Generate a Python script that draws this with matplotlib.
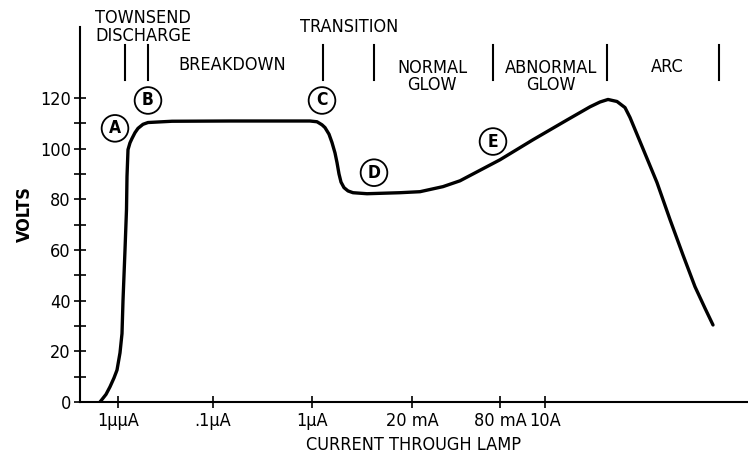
import matplotlib
matplotlib.use('Agg')
import matplotlib.pyplot as plt

# x is a position along the (non-uniform) current axis, ticks placed where the labels sit
tick_pos = [0.38, 1.33, 2.32, 3.32, 4.20, 4.65]
tick_labels = ['1\u00b5\u00b5A', '.1\u00b5A', '1\u00b5A', '20 mA', '80 mA', '10A']

# volt-ampere curve
curve_x = [0.20, 0.26, 0.30, 0.34, 0.37, 0.40, 0.42, 0.43, 0.45, 0.465, 0.47,
           0.48, 0.50, 0.52, 0.55, 0.58, 0.63, 0.68, 0.92, 1.50,
           2.20, 2.30, 2.37, 2.42, 2.45, 2.49, 2.52, 2.55, 2.57, 2.59, 2.61,
           2.64, 2.68, 2.73, 2.87, 3.20, 3.40, 3.63, 3.80, 3.93, 4.20, 4.53,
           4.87, 5.10, 5.20, 5.28, 5.37, 5.45, 5.50, 5.60, 5.77, 5.90, 6.03,
           6.15, 6.25, 6.33]
curve_v = [0, 3, 6, 9.5, 12.6, 19.4, 27, 40, 60, 76, 89,
           99.6, 102.3, 104, 106.3, 108, 109.6, 110.3, 110.8, 110.9,
           110.9, 110.9, 110.6, 109.4, 108.3, 105.7, 102.4, 98.3, 94.5, 90, 86.8,
           84.6, 83.3, 82.6, 82.2, 82.6, 83, 85, 87.3, 90, 95.6, 103.5,
           111.3, 116.5, 118.4, 119.4, 118.6, 116.2, 112.3, 102.8, 86.6, 72, 58,
           45.5, 37, 30.4]

# circled point labels
pt_names = ['A', 'B', 'C', 'D', 'E']
pt_x = [0.35, 0.68, 2.42, 2.94, 4.13]
pt_v = [108, 119, 119, 90.5, 102.8]

# region separators and names along the top
sep_x = [0.45, 0.68, 2.43, 2.94, 4.13, 5.27, 6.39]
region_names = ['TOWNSEND\nDISCHARGE', 'BREAKDOWN', 'TRANSITION',
                'NORMAL\nGLOW', 'ABNORMAL\nGLOW', 'ARC']
region_x = [0.63, 1.52, 2.69, 3.52, 4.71, 5.87]
region_v = [148, 133.2, 148, 128.5, 128.5, 132.4]

fam = ['DejaVu Sans']
st = 'condensed'
fs = 13

fig = plt.figure(figsize=(7.48, 4.58), dpi=100)
ax = fig.add_axes([80 / 748, 56 / 458, 668 / 748, 375 / 458])

ax.plot(curve_x, curve_v, color='black', lw=2.4, solid_capstyle='round',
        solid_joinstyle='round')

ax.set_xlim(0, 6.68)
ax.set_ylim(0, 148)

for s in ['top', 'right']:
    ax.spines[s].set_visible(False)
for s in ['left', 'bottom']:
    ax.spines[s].set_linewidth(1.5)

ax.set_xticks(tick_pos)
ax.set_xticklabels(tick_labels, family=fam, stretch=st, fontsize=fs)
ax.set_yticks(range(0, 121, 20))
ax.set_yticklabels([str(v) for v in range(0, 121, 20)], family=fam, stretch=st,
                   fontsize=fs)
ax.set_yticks(range(10, 120, 20), minor=True)
ax.tick_params(axis='both', which='both', direction='inout', length=9, width=1.2)
ax.tick_params(axis='y', pad=2)
ax.tick_params(axis='x', pad=3)

ax.set_xlabel('CURRENT THROUGH LAMP', family=fam, stretch=st, fontsize=fs,
              labelpad=4)
ax.set_ylabel('VOLTS', family=fam, stretch=st, fontsize=fs, fontweight='bold',
              labelpad=4)

for n, x, v in zip(pt_names, pt_x, pt_v):
    ax.text(x, v, n, ha='center', va='center', family=fam, stretch=st,
            fontsize=12.5, fontweight='bold',
            bbox=dict(boxstyle='circle,pad=0.25', fc='white', ec='black', lw=1.3))

for x in sep_x:
    ax.plot([x, x], [127, 141], color='black', lw=1.5, clip_on=False)

for name, x, v in zip(region_names, region_x, region_v):
    ax.text(x, v, name, ha='center', va='center', family=fam, stretch=st,
            fontsize=fs, linespacing=0.95)

fig.savefig('out.png', dpi=100)
